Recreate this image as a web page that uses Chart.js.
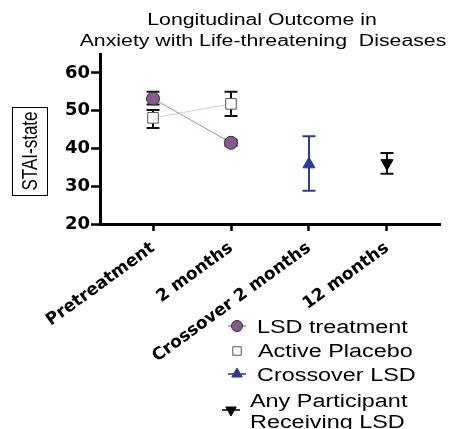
<!DOCTYPE html>
<html>
<head>
<meta charset="utf-8">
<script src="https://cdn.jsdelivr.net/npm/chart.js@4/dist/chart.umd.min.js"></script>
<style>
  html, body { margin: 0; padding: 0; background: #fff; }
  #wrap { width: 450px; height: 429px; }
</style>
</head>
<body>
<div id="wrap"><canvas id="c" width="450" height="429"></canvas></div>
<script>
// data
const categories = ['Pretreatment', '2 months', 'Crossover 2 months', '12 months'];
const yTicks = [20, 30, 40, 50, 60];

const lsdX = [0, 1];
const lsdValues = [53.2, 41.5];
const lsdLow = [51.6, 40.7];
const lsdHigh = [55.0, 42.3];

const placeboX = [0, 1];
const placeboValues = [48.1, 51.8];
const placeboLow = [45.4, 48.6];
const placeboHigh = [50.2, 55.0];

const crossoverX = [2];
const crossoverValues = [35.8];
const crossoverLow = [28.8];
const crossoverHigh = [43.2];

const anyX = [3];
const anyValues = [36.1];
const anyLow = [33.3];
const anyHigh = [38.8];

const titleLines = ['Longitudinal Outcome in', 'Anxiety with Life-threatening  Diseases'];
const yTitle = 'STAI-state';

function pts(xs, ys) { return xs.map((x, i) => ({ x: x, y: ys[i] })); }

const STRETCH = 1.33; // the reference is squashed wide

// error bars, drawn under the markers
const errorBars = {
  id: 'errorBars',
  beforeDatasetsDraw(chart) {
    const ctx = chart.ctx;
    const xs = chart.scales.x, ys = chart.scales.y;
    chart.data.datasets.forEach(ds => {
      if (!ds.errLow) return;
      ctx.save();
      ctx.strokeStyle = ds.errColor;
      ctx.lineWidth = 2;
      ds.data.forEach((p, i) => {
        const px = xs.getPixelForValue(p.x);
        const lo = ys.getPixelForValue(ds.errLow[i]);
        const hi = ys.getPixelForValue(ds.errHigh[i]);
        ctx.beginPath();
        ctx.moveTo(px, lo); ctx.lineTo(px, hi);
        ctx.moveTo(px - 6.5, lo); ctx.lineTo(px + 6.5, lo);
        ctx.moveTo(px - 6.5, hi); ctx.lineTo(px + 6.5, hi);
        ctx.stroke();
      });
      ctx.restore();
    });
  }
};

function stretchedText(ctx, text, x, y, align, k) {
  ctx.save();
  ctx.translate(x, y);
  ctx.scale(k || STRETCH, 1);
  ctx.textAlign = align;
  ctx.fillText(text, 0, 0);
  ctx.restore();
}

// title, boxed axis label and legend
const decorations = {
  id: 'decorations',
  afterDraw(chart) {
    const ctx = chart.ctx;
    ctx.save();
    ctx.fillStyle = '#000';
    ctx.textBaseline = 'alphabetic';

    ctx.font = '16px "Liberation Sans", Arial, sans-serif';
    stretchedText(ctx, titleLines[0], 262, 25, 'center');
    stretchedText(ctx, titleLines[1], 263, 46, 'center');

    // boxed y title
    ctx.strokeStyle = '#000';
    ctx.lineWidth = 1;
    ctx.strokeRect(12.5, 107.5, 35, 88);
    ctx.save();
    ctx.translate(30, 151);
    ctx.scale(1.3, 1);
    ctx.rotate(-Math.PI / 2);
    ctx.font = '17px "Liberation Sans", Arial, sans-serif';
    ctx.textAlign = 'center';
    ctx.textBaseline = 'middle';
    ctx.fillText(yTitle, 0, 1);
    ctx.restore();

    // legend
    const rows = [
      { ds: 0, mx: 237, my: 326, lines: ['LSD treatment'], tx: 257, ty: [333] },
      { ds: 1, mx: 237, my: 351, lines: ['Active Placebo'], tx: 258, ty: [357] },
      { ds: 2, mx: 237, my: 374, lines: ['Crossover LSD'], tx: 257, ty: [381] },
      { ds: 3, mx: 231, my: 410, lines: ['Any Participant', 'Receiving LSD'], tx: 250, ty: [407, 428] }
    ];
    ctx.font = '18px "Liberation Sans", Arial, sans-serif';
    rows.forEach(r => {
      const ds = chart.data.datasets[r.ds];
      ctx.save();
      ctx.strokeStyle = ds.legendLine;
      ctx.lineWidth = 1.5;
      ctx.beginPath();
      ctx.moveTo(r.mx - 9, r.my); ctx.lineTo(r.mx + 9, r.my);
      ctx.stroke();
      ctx.fillStyle = ds.pointBackgroundColor;
      ctx.strokeStyle = ds.pointBorderColor;
      ctx.lineWidth = 1;
      Chart.helpers.drawPoint(ctx, {
        pointStyle: ds.pointStyle,
        radius: ds.legendRadius,
        rotation: ds.rotation || 0,
        borderWidth: 1
      }, r.mx, r.my);
      ctx.restore();
      ctx.fillStyle = '#000';
      r.lines.forEach((t, i) => stretchedText(ctx, t, r.tx, r.ty[i], 'left', 1.3));
    });
    ctx.restore();
  }
};

new Chart(document.getElementById('c'), {
  type: 'line',
  data: {
    datasets: [
      {
        label: 'LSD treatment',
        data: pts(lsdX, lsdValues),
        errLow: lsdLow, errHigh: lsdHigh, errColor: '#111',
        showLine: true,
        borderColor: '#a98aae',
        borderWidth: 1,
        pointStyle: 'circle',
        pointRadius: 6.5,
        legendRadius: 5.5,
        legendLine: '#999',
        pointBackgroundColor: '#855a8c',
        pointBorderColor: '#3b2640',
        pointBorderWidth: 1,
        order: 1
      },
      {
        label: 'Active Placebo',
        data: pts(placeboX, placeboValues),
        errLow: placeboLow, errHigh: placeboHigh, errColor: '#111',
        showLine: true,
        borderColor: '#cfcfcf',
        borderWidth: 1,
        pointStyle: 'rect',
        pointRadius: 7.5,
        legendRadius: 6,
        legendLine: '#fff',
        pointBackgroundColor: '#fff',
        pointBorderColor: '#555',
        pointBorderWidth: 1,
        order: 2
      },
      {
        label: 'Crossover LSD',
        data: pts(crossoverX, crossoverValues),
        errLow: crossoverLow, errHigh: crossoverHigh, errColor: '#2e3a99',
        showLine: false,
        pointStyle: 'triangle',
        pointRadius: 7,
        legendRadius: 6,
        legendLine: '#2e3a99',
        pointBackgroundColor: '#2e3a99',
        pointBorderColor: '#2e3a99',
        pointBorderWidth: 1
      },
      {
        label: 'Any Participant Receiving LSD',
        data: pts(anyX, anyValues),
        errLow: anyLow, errHigh: anyHigh, errColor: '#111',
        showLine: false,
        pointStyle: 'triangle',
        rotation: 180,
        pointRotation: 180,
        pointRadius: 7,
        legendRadius: 6,
        legendLine: '#000',
        pointBackgroundColor: '#000',
        pointBorderColor: '#000',
        pointBorderWidth: 1
      }
    ]
  },
  options: {
    responsive: false,
    animation: false,
    clip: false,
    layout: { padding: { top: 54, right: 10, bottom: 0, left: 0 } },
    plugins: { legend: { display: false }, title: { display: false }, tooltip: { enabled: false } },
    scales: {
      x: {
        type: 'linear',
        min: -0.68,
        max: 3.68,
        afterBuildTicks: s => { s.ticks = categories.map((c, i) => ({ value: i })); },
        afterFit: s => { s.height = 205; },
        grid: { drawOnChartArea: false, drawTicks: true, tickLength: 7, tickWidth: 2.5, tickColor: '#000' },
        border: { display: true, color: '#000', width: 3 },
        ticks: {
          autoSkip: false,
          minRotation: 36,
          maxRotation: 36,
          padding: 7,
          color: '#000',
          font: { family: '"DejaVu Sans", sans-serif', weight: 'bold', size: 17 },
          callback: v => categories[v]
        }
      },
      y: {
        min: 20,
        max: 65,
        afterBuildTicks: s => { s.ticks = yTicks.map(v => ({ value: v })); },
        afterFit: s => { s.width = 100; },
        grid: { drawOnChartArea: false, drawTicks: true, tickLength: 9, tickWidth: 2.5, tickColor: '#000' },
        border: { display: true, color: '#000', width: 3 },
        ticks: {
          padding: 1,
          color: '#000',
          font: { family: '"DejaVu Sans", sans-serif', weight: 'bold', size: 18 }
        }
      }
    }
  },
  plugins: [errorBars, decorations]
});
</script>
</body>
</html>
